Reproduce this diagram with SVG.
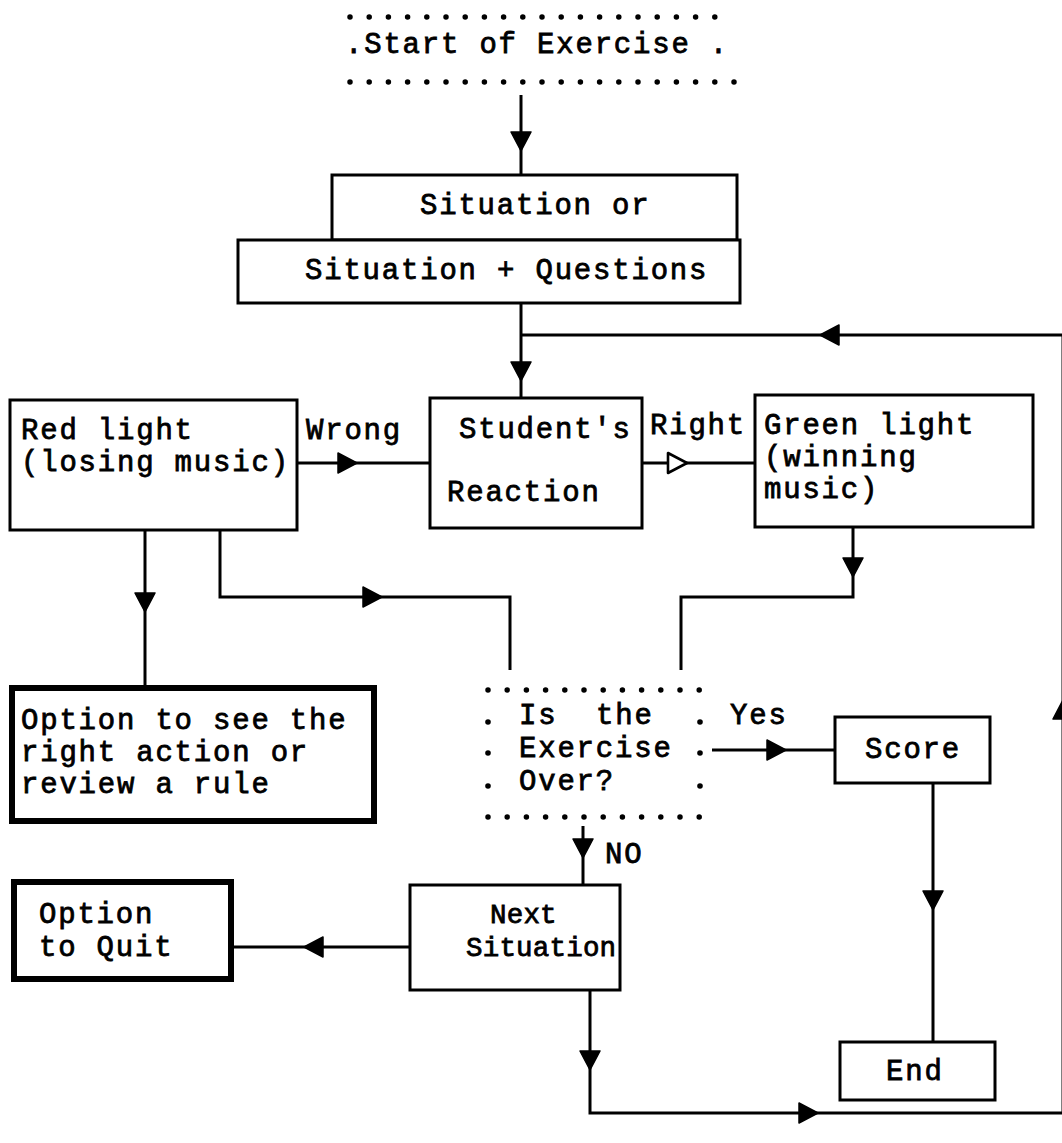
<svg xmlns="http://www.w3.org/2000/svg" width="1062" height="1143" viewBox="0 0 1062 1143">
  <style>
    .box { fill: #fff; stroke: #000; stroke-width: 3; }
    .heavy { fill: #fff; stroke: #000; stroke-width: 6; }
    .ln { fill: none; stroke: #000; stroke-width: 3; }
    .dots { fill: none; stroke: #000; stroke-width: 5.5; stroke-linecap: round; stroke-dasharray: 0 19.2; }
    .dot { fill: #000; }
    .t { font-family: "Liberation Mono", "Courier New", monospace; font-size: 29px; letter-spacing: 1.8px; fill: #000; stroke: #000; stroke-width: 0.8px; }
    .tight { font-size: 27.5px; letter-spacing: 0.2px; }
    .ah { fill: #000; stroke: #000; stroke-width: 1.5; stroke-linejoin: round; }
    .ah-open { fill: #fff; stroke: #000; stroke-width: 2.6; stroke-linejoin: round; }
  </style>
  <defs>
    <!-- arrowhead pointing right, tip at the origin -->
    <path id="head" d="M0,0 L-19,-10 L-19,10 Z"/>
  </defs>
  <rect width="1062" height="1143" fill="#fff"/>

  <g id="connectors">
    <!-- start to situation -->
    <line class="ln" x1="521" y1="95" x2="521" y2="175"/>
    <use href="#head" class="ah" transform="translate(521,151) rotate(90)"/>
    <!-- situation to student's reaction -->
    <line class="ln" x1="521" y1="303" x2="521" y2="398"/>
    <use href="#head" class="ah" transform="translate(521,381) rotate(90)"/>
    <!-- loop back from next situation -->
    <polyline class="ln" points="590,990 590,1113 1063,1113 1063,335 521,335"/>
    <use href="#head" class="ah" transform="translate(590,1070) rotate(90)"/>
    <use href="#head" class="ah" transform="translate(818,1113)"/>
    <use href="#head" class="ah" transform="translate(1063,700) rotate(-90)"/>
    <use href="#head" class="ah" transform="translate(820,335) rotate(180)"/>
    <!-- wrong -->
    <line class="ln" x1="297" y1="463" x2="430" y2="463"/>
    <use href="#head" class="ah" transform="translate(357,463)"/>
    <!-- right -->
    <line class="ln" x1="642" y1="463" x2="755" y2="463"/>
    <use href="#head" class="ah-open" transform="translate(687,463)"/>
    <!-- red light to option -->
    <line class="ln" x1="145" y1="530" x2="145" y2="686"/>
    <use href="#head" class="ah" transform="translate(145,612) rotate(90)"/>
    <!-- red light to decision -->
    <polyline class="ln" points="220,530 220,597 510,597 510,670"/>
    <use href="#head" class="ah" transform="translate(382,597)"/>
    <!-- green light to decision -->
    <polyline class="ln" points="853,527 853,597 681,597 681,670"/>
    <use href="#head" class="ah" transform="translate(853,577) rotate(90)"/>
    <!-- yes -->
    <line class="ln" x1="712" y1="750" x2="835" y2="750"/>
    <use href="#head" class="ah" transform="translate(786,750)"/>
    <!-- no -->
    <line class="ln" x1="583" y1="826" x2="583" y2="885"/>
    <use href="#head" class="ah" transform="translate(583,858) rotate(90)"/>
    <!-- score to end -->
    <line class="ln" x1="933" y1="783" x2="933" y2="1042"/>
    <use href="#head" class="ah" transform="translate(933,910) rotate(90)"/>
    <!-- next situation to quit option -->
    <line class="ln" x1="410" y1="947" x2="232" y2="947"/>
    <use href="#head" class="ah" transform="translate(304,947) rotate(180)"/>
  </g>

  <g id="start">
    <line class="dots" x1="350" y1="17" x2="715" y2="17"/>
    <text class="t" x="345" y="53">.Start of Exercise .</text>
    <line class="dots" x1="350" y1="82" x2="735" y2="82"/>
  </g>

  <g id="situation">
    <rect class="box" x="332" y="175" width="405" height="65"/>
    <rect class="box" x="238" y="240" width="502" height="63"/>
    <text class="t" x="420" y="214">Situation or</text>
    <text class="t" x="305" y="279">Situation + Questions</text>
  </g>

  <g id="red-light">
    <rect class="box" x="10" y="400" width="287" height="130"/>
    <text class="t" x="21" y="439">Red light</text>
    <text class="t" x="21" y="471">(losing music)</text>
  </g>

  <g id="student-reaction">
    <rect class="box" x="430" y="398" width="212" height="130"/>
    <text class="t" x="459" y="438">Student's</text>
    <text class="t" x="447" y="501">Reaction</text>
  </g>

  <g id="green-light">
    <rect class="box" x="755" y="395" width="278" height="132"/>
    <text class="t" x="764" y="434">Green light</text>
    <text class="t" x="764" y="466">(winning</text>
    <text class="t" x="764" y="498">music)</text>
  </g>

  <g id="labels">
    <text class="t" x="306" y="439">Wrong</text>
    <text class="t" x="650" y="434">Right</text>
    <text class="t" x="730" y="724">Yes</text>
    <text class="t" x="605" y="863">NO</text>
  </g>

  <g id="option-review">
    <rect class="heavy" x="12" y="688" width="362" height="133"/>
    <text class="t" x="21" y="729">Option to see the</text>
    <text class="t" x="21" y="761">right action or</text>
    <text class="t" x="21" y="793">review a rule</text>
  </g>

  <g id="decision">
    <line class="dots" x1="488" y1="690" x2="701" y2="690"/>
    <line class="dots" x1="488" y1="817" x2="701" y2="817"/>
    <circle class="dot" cx="488" cy="722" r="2.8"/>
    <circle class="dot" cx="488" cy="753" r="2.8"/>
    <circle class="dot" cx="488" cy="786" r="2.8"/>
    <circle class="dot" cx="700" cy="722" r="2.8"/>
    <circle class="dot" cx="700" cy="753" r="2.8"/>
    <circle class="dot" cx="700" cy="786" r="2.8"/>
    <text class="t" x="519" y="724">Is<tspan x="596">the</tspan></text>
    <text class="t" x="519" y="757">Exercise</text>
    <text class="t" x="519" y="790">Over?</text>
  </g>

  <g id="score">
    <rect class="box" x="835" y="717" width="155" height="66"/>
    <text class="t" x="865" y="758">Score</text>
  </g>

  <g id="next-situation">
    <rect class="box" x="410" y="885" width="210" height="105"/>
    <text class="t tight" x="490" y="923">Next</text>
    <text class="t tight" x="466" y="956">Situation</text>
  </g>

  <g id="option-quit">
    <rect class="heavy" x="14" y="882" width="217" height="97"/>
    <text class="t" x="39" y="923">Option</text>
    <text class="t" x="39" y="956">to Quit</text>
  </g>

  <g id="end">
    <rect class="box" x="840" y="1042" width="155" height="58"/>
    <text class="t" x="886" y="1080">End</text>
  </g>
</svg>
